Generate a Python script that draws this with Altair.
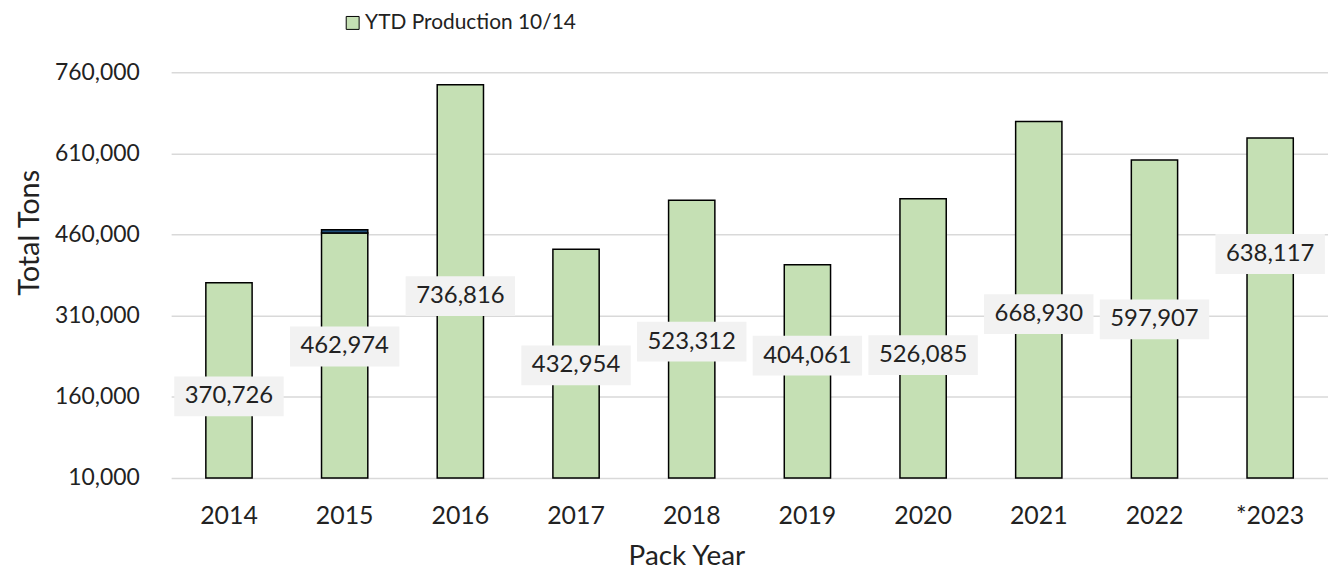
import altair as alt
import pandas as pd

# ---- data ----
years = ["2014", "2015", "2016", "2017", "2018", "2019", "2020", "2021", "2022", "*2023"]
ytd_production = [370726, 462974, 736816, 432954, 523312, 404061, 526085, 668930, 597907, 638117]
# small dark segment visible on top of the 2015 bar
extra_segment = [0, 6000, 0, 0, 0, 0, 0, 0, 0, 0]
# heights (in tons) at which the data-label boxes sit
label_anchor = [161000, 253000, 346000, 218000, 262000, 236000, 237000, 313000, 303000, 424000]
y_ticks = [10000, 160000, 310000, 460000, 610000, 760000]
series_name = "YTD Production 10/14"
base_value = 10000

df = pd.DataFrame({
    "year": years,
    "value": ytd_production,
    "extra": extra_segment,
    "label_y": label_anchor,
})
df["base"] = base_value
df["top"] = df["value"] + df["extra"]
df["series"] = series_name
df["label"] = [f"{v:,}" for v in ytd_production]

FONT = "Lato"
TXT = "#222222"

x_axis = alt.Axis(
    title="Pack Year", domain=False, ticks=False, tickSize=0, labelAngle=0,
    labelFontSize=25, labelFont=FONT, labelColor=TXT, labelPadding=26,
    titleFontSize=28, titleFont=FONT, titleColor=TXT, titleFontWeight="normal",
    titleX=518, titleY=79, titleBaseline="middle", titleAlign="center",
)
y_axis = alt.Axis(
    values=y_ticks, format=",", labelExpr="format(datum.value, ',')", title="Total Tons",
    domain=False, ticks=False,
    tickSize=0, labelFontSize=23, labelFont=FONT, labelColor=TXT, labelPadding=32,
    grid=True, gridColor="#d9d9d9", gridWidth=1.5,
    titleFontSize=29, titleFont=FONT, titleColor=TXT, titleFontWeight="normal",
    titleX=-142, titleY=161, titleAngle=-90, titleBaseline="middle", titleAlign="center",
)
x_scale = alt.Scale(paddingInner=0.6, paddingOuter=0.3)
y_scale = alt.Scale(domain=[10000, 760000], nice=False, zero=False)

bars = alt.Chart(df).mark_bar(stroke="black", strokeWidth=1.5).encode(
    x=alt.X("year:N", sort=years, scale=x_scale, axis=x_axis),
    y=alt.Y("value:Q", scale=y_scale, axis=y_axis, title="Total Tons"),
    y2="base:Q",
    color=alt.Color(
        "series:N",
        scale=alt.Scale(domain=[series_name], range=["#c5e0b4"]),
        legend=alt.Legend(
            title=None, orient="none", legendX=172, legendY=-60, padding=0,
            symbolType="square", symbolSize=169, symbolStrokeColor="black",
            symbolStrokeWidth=1, symbolFillColor="#c5e0b4",
            labelFont=FONT, labelFontSize=21, labelColor=TXT, labelOffset=2,
            labelLimit=400,
        ),
    ),
)

segment = alt.Chart(df).transform_filter("datum.extra > 0").mark_bar(
    stroke="black", strokeWidth=1.5, color="#1f4e79"
).encode(
    x=alt.X("year:N", sort=years, scale=x_scale, axis=x_axis),
    y=alt.Y("top:Q", scale=y_scale, axis=y_axis, title="Total Tons"),
    y2="value:Q",
)

boxes = alt.Chart(df).mark_tick(
    color="#f2f2f2", thickness=40, size=110, opacity=1
).encode(
    x=alt.X("year:N", sort=years, scale=x_scale, axis=x_axis),
    y=alt.Y("label_y:Q", scale=y_scale, axis=y_axis, title="Total Tons"),
)

texts = alt.Chart(df).mark_text(
    font=FONT, fontSize=24, color=TXT, baseline="middle", align="center"
).encode(
    x=alt.X("year:N", sort=years, scale=x_scale, axis=x_axis),
    y=alt.Y("label_y:Q", scale=y_scale, axis=y_axis, title="Total Tons"),
    text="label:N",
)

chart = alt.layer(bars, segment, boxes, texts).properties(
    width=1163, height=408,
    autosize=alt.AutoSizeParams(type="none"),
    padding={"left": 164, "top": 63, "right": 0, "bottom": 97},
    background="white",
).configure(font=FONT).configure_view(stroke=None)

chart.save("out.html", embed_options={"renderer": "svg", "actions": False})
